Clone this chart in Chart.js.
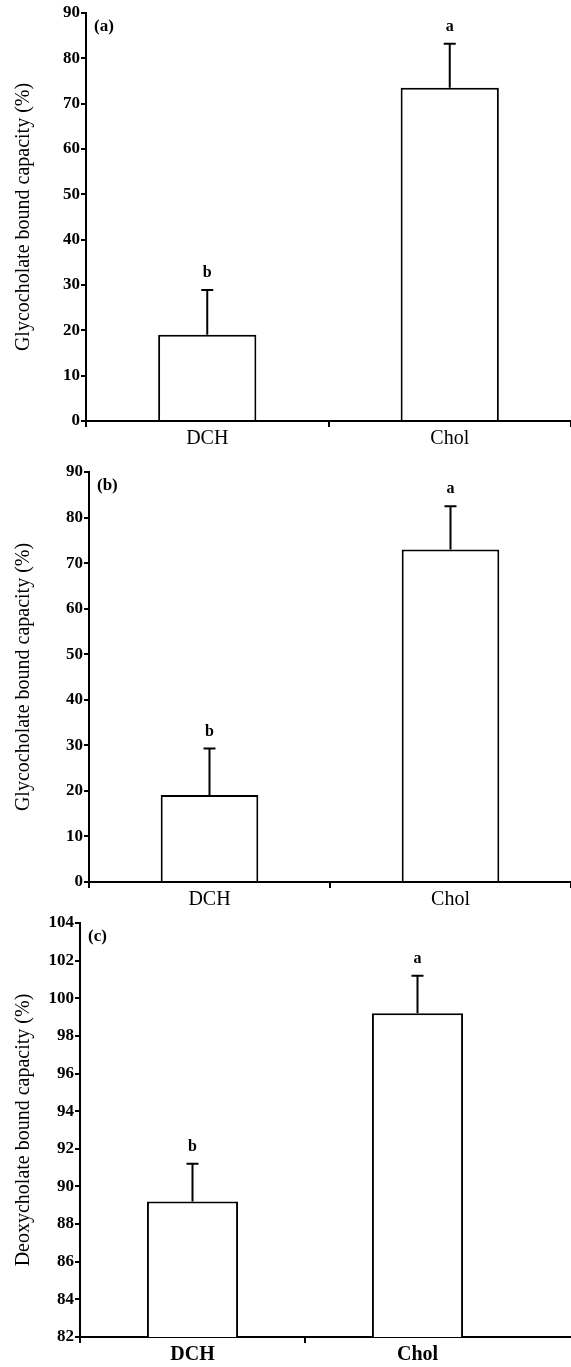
<!DOCTYPE html>
<html>
<head>
<meta charset="utf-8">
<script src="https://cdn.jsdelivr.net/npm/chart.js@4.4.0/dist/chart.umd.min.js"></script>
<style>
  body { margin: 0; background: #fff; }
  canvas { display: block; }
</style>
</head>
<body>
<canvas id="chartA" width="571" height="452"></canvas>
<canvas id="chartB" width="571" height="458"></canvas>
<canvas id="chartC" width="571" height="457"></canvas>
<script>
// data
var categories = ['DCH', 'Chol'];
var letters = ['b', 'a'];

var glycoA = [19.0, 73.5];
var glycoAErr = [9.9, 9.7];

var glycoB = [19.1, 73.0];
var glycoBErr = [10.2, 9.5];

var deoxy = [89.2, 99.2];
var deoxyErr = [2.0, 2.0];

var serif = "'Liberation Serif', 'DejaVu Serif', serif";

var errorBars = {
	id: 'errorBars',
	afterDatasetsDraw: function(chart, args, opts) {
		var ctx = chart.ctx;
		var meta = chart.getDatasetMeta(0);
		var y = chart.scales.y;
		var area = chart.chartArea;
		ctx.save();
		ctx.strokeStyle = '#000';
		ctx.fillStyle = '#000';
		ctx.lineWidth = 2;
		ctx.font = 'bold 16px ' + serif;
		ctx.textAlign = 'center';
		ctx.textBaseline = 'alphabetic';
		meta.data.forEach(function(bar, i) {
			var top = y.getPixelForValue(opts.values[i] + opts.errors[i]);
			ctx.beginPath();
			ctx.moveTo(bar.x, bar.y);
			ctx.lineTo(bar.x, top);
			ctx.moveTo(bar.x - 6, top);
			ctx.lineTo(bar.x + 6, top);
			ctx.stroke();
			ctx.fillText(opts.letters[i], bar.x, top - 13);
		});
		// panel tag
		ctx.font = 'bold 17px ' + serif;
		ctx.textAlign = 'left';
		ctx.textBaseline = 'middle';
		ctx.fillText(opts.panel, area.left + 8, area.top + 14);
		// x axis line runs on to the edge
		if (opts.extend) {
			ctx.beginPath();
			ctx.moveTo(area.right, area.bottom);
			ctx.lineTo(chart.width, area.bottom);
			ctx.stroke();
		}
		ctx.restore();
	}
};

function makeChart(id, values, errors, panel, cfg) {
	var ctx = document.getElementById(id);
	return new Chart(ctx, {
		type: 'bar',
		data: {
			labels: categories,
			datasets: [{
				data: values,
				backgroundColor: '#fff',
				borderColor: '#000',
				borderWidth: 2,
				borderSkipped: 'start',
				barPercentage: 0.405,
				categoryPercentage: 1
			}]
		},
		options: {
			responsive: false,
			animation: false,
			devicePixelRatio: 1,
			layout: { padding: { top: cfg.top, right: cfg.right, left: 0, bottom: 0 } },
			plugins: {
				legend: { display: false },
				tooltip: { enabled: false },
				errorBars: { values: values, errors: errors, letters: letters, panel: panel, extend: cfg.right > 0 }
			},
			scales: {
				x: {
					offset: true,
					grid: {
						offset: true,
						drawOnChartArea: false,
						drawTicks: true,
						tickLength: 6,
						lineWidth: 2,
						color: function(c) {
							if (c.type === 'tick') return '#000';
							return cfg.right > 0 ? 'rgba(0,0,0,0)' : '#000';
						}
					},
					border: { color: '#000', width: 2 },
					ticks: { color: '#000', padding: 0, font: { family: serif, size: 20, weight: cfg.xBold ? 'bold' : 'normal' } },
					afterFit: function(s) { s.height = cfg.xh; }
				},
				y: {
					min: cfg.min,
					max: cfg.max,
					ticks: { stepSize: cfg.step, color: '#000', padding: 1, font: { family: serif, size: 17, weight: 'bold' } },
					grid: { drawOnChartArea: false, drawTicks: true, tickLength: 5, lineWidth: 2, color: '#000' },
					border: { color: '#000', width: 2 },
					title: {
						display: true,
						text: cfg.title,
						color: '#000',
						padding: { top: 12, bottom: 0 },
						font: { family: serif, size: 20 }
					},
					afterFit: function(s) { s.width = cfg.yw; }
				}
			}
		},
		plugins: [errorBars]
	});
}

makeChart('chartA', glycoA, glycoAErr, '(a)', {
	title: 'Glycocholate bound capacity (%)', min: 0, max: 90, step: 10,
	top: 13, right: 0, xh: 31, yw: 86, xBold: false
});
makeChart('chartB', glycoB, glycoBErr, '(b)', {
	title: 'Glycocholate bound capacity (%)', min: 0, max: 90, step: 10,
	top: 20, right: 0, xh: 28, yw: 89, xBold: false
});
makeChart('chartC', deoxy, deoxyErr, '(c)', {
	title: 'Deoxycholate bound capacity (%)', min: 82, max: 104, step: 2,
	top: 13, right: 41, xh: 30, yw: 80, xBold: true
});
</script>
</body>
</html>
